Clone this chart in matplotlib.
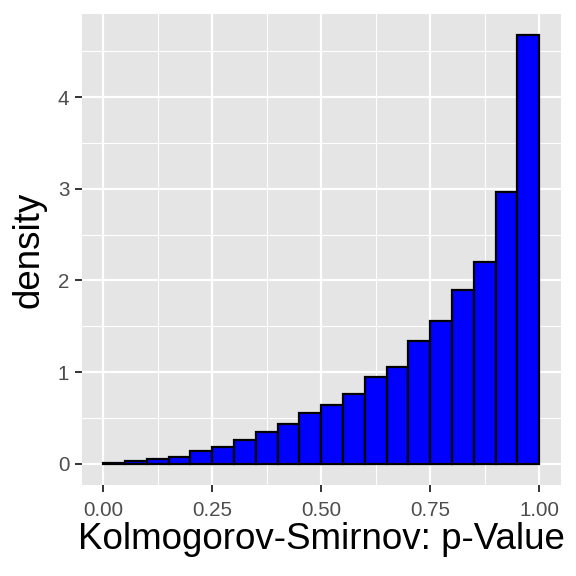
import numpy as np
import matplotlib
matplotlib.use('Agg')
import matplotlib.pyplot as plt
from matplotlib.ticker import MultipleLocator

# bin edges (width 0.05) and density per bin
bin_edges = [round(0.05 * i, 2) for i in range(21)]
densities = [0.01, 0.03, 0.05, 0.07, 0.14, 0.18, 0.26, 0.35, 0.43, 0.55,
             0.64, 0.76, 0.94, 1.06, 1.34, 1.56, 1.90, 2.205, 2.96, 4.675]

x_ticks = [0.0, 0.25, 0.5, 0.75, 1.0]
x_tick_labels = ['0.00', '0.25', '0.50', '0.75', '1.00']
y_ticks = [0, 1, 2, 3, 4]

plt.rcParams['font.family'] = ['Liberation Sans', 'DejaVu Sans']

fig = plt.figure(figsize=(5.76, 5.76), dpi=100)
ax = fig.add_axes([81.5 / 576, 91 / 576, 479.5 / 576, 471 / 576])
ax.set_facecolor('#e5e5e5')

lefts = np.array(bin_edges[:-1])
widths = np.diff(bin_edges)
ax.bar(lefts, densities, width=widths, align='edge', color='#0000ff',
       edgecolor='black', linewidth=1.6, zorder=3)

# ggplot-like expansion
xr = bin_edges[-1] - bin_edges[0]
ax.set_xlim(bin_edges[0] - 0.05 * xr, bin_edges[-1] + 0.05 * xr)
ymax = max(densities)
ax.set_ylim(-0.05 * ymax, ymax * 1.05)

ax.set_xticks(x_ticks)
ax.set_xticklabels(x_tick_labels)
ax.set_yticks(y_ticks)
ax.xaxis.set_minor_locator(MultipleLocator(0.125))
ax.yaxis.set_minor_locator(MultipleLocator(0.5))

ax.grid(which='major', color='white', linewidth=1.6, zorder=0)
ax.grid(which='minor', color='white', linewidth=0.8, zorder=0)
ax.set_axisbelow(True)
for s in ax.spines.values():
    s.set_visible(False)

ax.tick_params(which='major', length=4.8, width=1.4, color='#333333',
               labelsize=14.8, labelcolor='#4d4d4d', pad=4)
ax.tick_params(axis='x', which='major', pad=7)
ax.tick_params(which='minor', length=0)

ax.set_xlabel('Kolmogorov-Smirnov: p-Value', fontsize=26.5, color='black', labelpad=1)
ax.set_ylabel('density', fontsize=26.5, color='black', labelpad=8)

fig.savefig('out.png', dpi=100)
